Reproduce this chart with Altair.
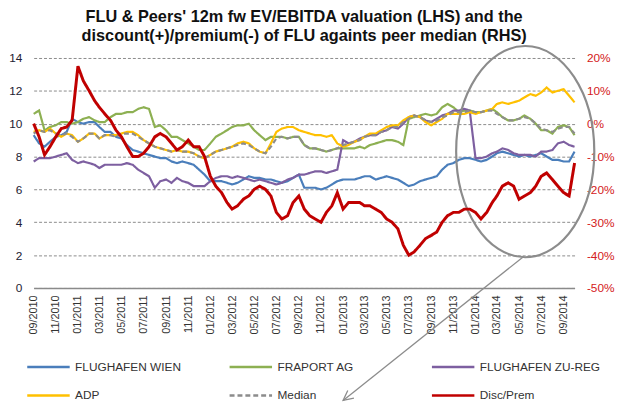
import altair as alt
import pandas as pd

series_names = ["FLUGHAFEN WIEN", "FRAPORT AG", "FLUGHAFEN ZU-REG", "ADP", "Median", "Disc/Prem"]
series_colors = ["#4A7EBB", "#8DB052", "#7D5FA0", "#FFC000", "#8C8C8C", "#C00000"]
series_dash = [[1, 0], [1, 0], [1, 0], [1, 0], [5, 3], [1, 0]]

# observation dates: 1st and 16th of every month, Sep 2010 .. Oct 2014
dates = [f"{2010 + (8 + k // 2) // 12}-{(8 + k // 2) % 12 + 1:02d}-{1 if k % 2 == 0 else 16:02d}" for k in range(99)]

flughafen_wien = [
    9.3, 8.8, 8.6, 8.9, 9.2, 9.3, 9.5, 10.3, 10.1, 10.0, 10.1, 10.1, 9.8, 9.5, 9.5, 9.2, 9.1, 8.7, 8.4, 8.3, 8.2, 8.1, 8.0, 7.9, 7.9, 7.7,
    7.6, 7.7, 7.6, 7.5, 7.2, 6.9, 6.5, 6.5, 6.5, 6.4, 6.3, 6.4, 6.6, 6.8, 6.7, 6.7, 6.6, 6.6, 6.5, 6.4, 6.5, 6.7, 6.9, 6.1, 6.1,
    6.1, 6.0, 6.1, 6.3, 6.5, 6.6, 6.6, 6.6, 6.7, 6.8, 6.8, 6.6, 6.7, 6.8, 6.7, 6.6, 6.4, 6.2, 6.3, 6.5, 6.6, 6.7, 6.8, 7.2, 7.5,
    7.6, 7.8, 7.9, 7.9, 7.8, 7.7, 7.8, 8.0, 8.2, 8.3, 8.2, 8.1, 8.0, 8.1, 8.0, 8.1, 8.2, 8.0, 7.8, 7.8, 7.7, 7.7, 8.3,
]
fraport = [
    10.6, 10.8, 9.6, 9.8, 9.9, 10.1, 10.1, 10.0, 10.1, 10.3, 10.4, 10.2, 10.1, 10.1, 10.4, 10.6, 10.6, 10.7, 10.7, 10.9, 11.0, 10.9, 9.8, 9.9, 9.6, 9.2,
    9.2, 9.0, 8.8, 8.6, 8.4, 8.4, 8.8, 9.2, 9.4, 9.6, 9.8, 9.9, 9.9, 10.0, 9.6, 9.3, 9.0, 9.2, 9.2, 9.2, 9.1, 9.2, 9.2, 8.7, 8.5,
    8.5, 8.4, 8.3, 8.4, 8.5, 8.5, 8.5, 8.5, 8.6, 8.5, 8.7, 8.8, 8.9, 9.0, 9.0, 8.9, 8.7, 10.3, 10.4, 10.5, 10.6, 10.5, 10.6, 11.0, 11.2,
    11.0, 10.7, 10.8, 10.8, 10.7, 10.7, 10.8, 10.9, 10.7, 10.4, 10.2, 10.2, 10.3, 10.5, 10.3, 10.0, 9.6, 9.6, 9.4, 9.8, 9.9, 9.8, 9.3,
]
flughafen_zu = [
    7.7, 7.9, 7.9, 7.9, 8.0, 8.1, 8.2, 7.8, 7.6, 7.7, 7.6, 7.5, 7.3, 7.5, 7.5, 7.5, 7.5, 7.6, 7.5, 7.2, 7.0, 6.8, 6.1, 6.5, 6.6, 6.4,
    6.7, 6.5, 6.4, 6.2, 6.2, 6.2, 6.5, 6.7, 6.8, 6.8, 6.7, 6.8, 6.7, 6.6, 6.5, 6.6, 6.5, 6.4, 6.3, 6.4, 6.6, 6.7, 6.9, 6.9, 7.0,
    7.1, 7.1, 7.0, 7.1, 7.2, 9.0, 8.8, 8.9, 9.1, 9.2, 9.3, 9.3, 9.5, 9.6, 9.8, 9.7, 10.0, 10.4, 10.5, 10.4, 10.2, 10.1, 10.3, 10.5, 10.6,
    10.8, 10.8, 10.9, 10.8, 7.9, 7.9, 8.0, 8.2, 8.3, 8.5, 8.4, 8.2, 8.1, 8.1, 8.1, 8.0, 8.3, 8.3, 8.4, 8.8, 8.9, 8.7, 8.6,
]
adp = [
    9.5, 9.6, 9.5, 9.7, 9.4, 9.2, 9.4, 9.3, 8.9, 9.1, 9.4, 9.4, 9.1, 9.3, 9.3, 9.3, 9.4, 9.5, 9.5, 9.3, 9.0, 8.8, 8.6, 8.5, 8.4, 8.3,
    8.4, 8.3, 8.3, 8.2, 8.0, 7.9, 8.1, 8.3, 8.4, 8.5, 8.6, 8.8, 8.9, 8.8, 8.5, 8.3, 8.2, 8.8, 9.5, 9.7, 9.8, 9.8, 9.6, 9.5, 9.4,
    9.3, 9.3, 9.2, 9.3, 8.8, 8.6, 8.7, 8.9, 9.0, 9.2, 9.4, 9.4, 9.6, 9.8, 9.9, 9.9, 10.2, 10.4, 10.5, 10.4, 10.1, 9.9, 10.1, 10.3, 10.6,
    10.6, 10.6, 10.6, 10.7, 10.6, 10.7, 10.8, 10.9, 11.2, 11.3, 11.2, 11.3, 11.4, 11.6, 11.8, 11.7, 11.9, 12.2, 11.9, 12.0, 12.1, 11.7, 11.3,
]
median = [
    9.4, 9.6, 9.5, 9.6, 9.4, 9.3, 9.4, 9.2, 8.9, 9.1, 9.4, 9.4, 9.1, 9.3, 9.3, 9.2, 9.4, 9.4, 9.4, 9.2, 9.0, 8.8, 8.6, 8.5, 8.4, 8.3,
    8.4, 8.3, 8.3, 8.2, 8.0, 7.9, 8.1, 8.3, 8.4, 8.5, 8.6, 8.7, 8.8, 8.7, 8.5, 8.3, 8.2, 8.6, 9.1, 9.2, 9.1, 9.2, 9.2, 8.7, 8.5,
    8.5, 8.4, 8.3, 8.4, 8.5, 8.7, 8.8, 8.9, 9.0, 9.2, 9.3, 9.3, 9.5, 9.6, 9.8, 9.8, 10.1, 10.3, 10.5, 10.4, 10.2, 10.1, 10.2, 10.4, 10.5,
    10.7, 10.7, 10.7, 10.8, 10.7, 10.7, 10.8, 10.8, 10.6, 10.4, 10.2, 10.2, 10.3, 10.4, 10.3, 10.0, 9.7, 9.6, 9.5, 9.7, 9.8, 9.8, 9.4,
]
disc_prem = [
    0, -4, -9.5, -7, -4, -1.5, -1, 1, 17.5, 13, 10, 7, 5, 3, 1, -2, -4, -7, -10, -10, -9, -7, -4, -3, -4, -6,
    -8, -7, -5, -7, -7, -10, -16, -19, -21, -24, -26, -25, -23, -22, -20, -19, -20, -22, -27, -29, -28, -24, -22, -26, -28,
    -29, -30, -27, -25, -21, -26, -24, -24, -24, -25, -25, -26, -27, -29, -30, -32, -37, -40, -39, -37, -35, -34, -33, -30, -28,
    -27, -27, -26, -26, -27, -29, -27, -24, -22, -19, -18, -19, -23, -22, -21, -19, -16, -15, -17, -19, -21, -22, -12,
]
for arr in (flughafen_wien, fraport, flughafen_zu, adp, median, disc_prem):
    assert len(arr) == len(dates), len(arr)

tick_months = [(2010, 9), (2010, 11)] + [(y, m) for y in (2011, 2012, 2013) for m in (1, 3, 5, 7, 9, 11)] + [(2014, m) for m in (1, 3, 5, 7, 9)]
lhs_ticks = [0, 2, 4, 6, 8, 10, 12, 14]
rhs_ticks = [-50, -40, -30, -20, -10, 0, 10, 20]

title_lines = [
    "FLU & Peers' 12m fw EV/EBITDA valuation (LHS) and the",
    "discount(+)/premium(-) of FLU againts peer median (RHS)",
]

# annotation (ellipse around 2014 and an arrow pointing down)
ellipse_at = {"date": "2014-05-18", "value": 8.3}
arrow_from = {"date": "2014-05-13", "value": 1.9}
arrow_to = {"date": "2013-01-01", "value": -6.85}

# ---------------- tables ----------------
lhs_series = [flughafen_wien, fraport, flughafen_zu, adp, median]
lhs_df = pd.DataFrame(
    [{"date": d, "series": name, "value": v}
     for name, vals in zip(series_names[:5], lhs_series)
     for d, v in zip(dates, vals)]
)
rhs_df = pd.DataFrame({"date": dates, "series": "Disc/Prem", "pct": disc_prem})
ell_df = pd.DataFrame([ellipse_at])
arr_df = pd.DataFrame([{"date": arrow_from["date"], "value": arrow_from["value"],
                        "date2": arrow_to["date"], "value2": arrow_to["value"]}])
head_df = pd.DataFrame([{"date": arrow_to["date"], "value": arrow_to["value"]}])

FONT = "Liberation Sans, Arial, sans-serif"

def dt(y, m):
    return alt.DateTime(year=y, month=m, date=1, utc=True)

x_scale = alt.Scale(type="utc", domain=[dt(2010, 9), dt(2014, 10)])
x_axis = alt.Axis(
    values=[dt(y, m) for y, m in tick_months],
    format="%m/%Y",
    labelAngle=270,
    labelFlush=False,
    labelOverlap=False,
    title=None,
    grid=False,
    ticks=False,
    domainColor="#8a8a8a",
    domainWidth=1.5,
    labelFontSize=11,
    labelColor="#333333",
    labelPadding=7,
)
x_enc = alt.X("date:T", scale=x_scale, axis=x_axis)

lhs_scale = alt.Scale(domain=[0, 14], nice=False, zero=False)
lhs_axis = alt.Axis(
    values=lhs_ticks,
    title=None,
    grid=True,
    gridDash=[3, 2],
    gridColor="#8a8a8a",
    gridWidth=1,
    domain=False,
    ticks=False,
    labelOverlap=False,
    labelColor="#222233",
    labelFontSize=12,
    labelPadding=12,
)
lhs_y = alt.Y("value:Q", scale=lhs_scale, axis=lhs_axis)

color_enc = alt.Color(
    "series:N",
    scale=alt.Scale(domain=series_names, range=series_colors),
    sort=series_names,
    legend=alt.Legend(title=None),
)
dash_enc = alt.StrokeDash(
    "series:N",
    scale=alt.Scale(domain=series_names, range=series_dash),
    sort=series_names,
    legend=alt.Legend(title=None),
)

lhs = alt.Chart(lhs_df).mark_line(strokeWidth=2.2).encode(
    x=x_enc,
    y=lhs_y,
    color=color_enc,
    strokeDash=dash_enc,
    detail="series:N",
)

ellipse = alt.Chart(ell_df).mark_point(
    shape="M -0.654 0 A 0.654 1 0 1 0 0.654 0 A 0.654 1 0 1 0 -0.654 0 Z",
    size=45796,
    filled=False,
    stroke="#8c8c8c",
    strokeWidth=2.2,
    opacity=1,
).encode(x=x_enc, y=lhs_y)

arrow = alt.Chart(arr_df).mark_rule(stroke="#8c8c8c", strokeWidth=1.3).encode(
    x=x_enc, x2="date2:T", y=lhs_y, y2="value2:Q"
)

head = alt.Chart(head_df).mark_point(
    shape="M -0.5 1 L 0 0 L 0.5 1",
    size=400,
    angle=231.6,
    filled=False,
    stroke="#8c8c8c",
    strokeWidth=1.3,
    opacity=1,
).encode(x=x_enc, y=lhs_y)

rhs = alt.Chart(rhs_df).mark_line(strokeWidth=3).encode(
    x=x_enc,
    y=alt.Y(
        "pct:Q",
        scale=alt.Scale(domain=[-50, 20], nice=False, zero=False),
        axis=alt.Axis(
            orient="right",
            values=rhs_ticks,
            labelExpr="datum.value + '%'",
            labelOverlap=False,
            title=None,
            grid=False,
            domain=False,
            ticks=False,
            labelColor="#D42020",
            labelFontSize=12,
            labelPadding=12,
        ),
    ),
    color=color_enc,
    strokeDash=dash_enc,
)

inner = alt.layer(lhs, ellipse, arrow, head)
chart = (
    alt.layer(inner, rhs)
    .resolve_scale(y="independent")
    .properties(
        width=548,
        height=233,
        autosize=alt.AutoSizeParams(type="none"),
        padding={"left": 26, "top": 48, "right": 43, "bottom": 120},
        title=alt.TitleParams(
            text=title_lines,
            fontSize=16.5,
            fontWeight="bold",
            font=FONT,
            color="#111111",
            anchor="middle",
            frame="group",
            lineHeight=19,
            offset=-3,
        ),
    )
    .configure(font=FONT)
    .configure_view(stroke="transparent")
    .configure_legend(
        orient="none",
        legendX=-8,
        legendY=290,
        direction="horizontal",
        columns=3,
        symbolType="stroke",
        symbolSize=1849,
        symbolStrokeWidth=2.5,
        labelFontSize=12,
        labelColor="#333333",
        labelOffset=4,
        columnPadding=28,
        rowPadding=0,
        gridAlign="all",
        labelLimit=300,
    )
)

chart.save("out.html", embed_options={"renderer": "svg", "actions": False})
